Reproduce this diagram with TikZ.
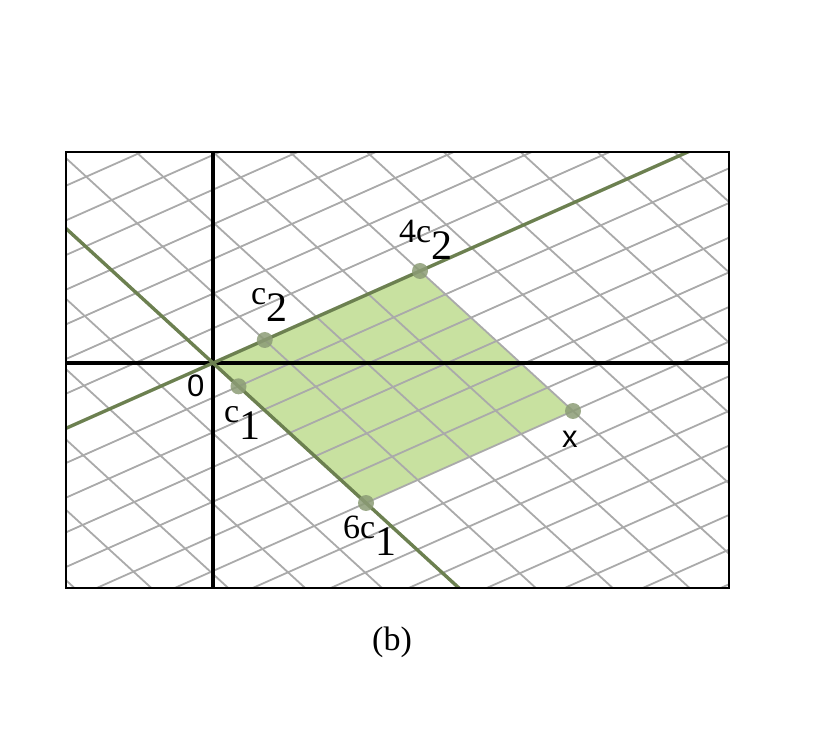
\documentclass[tikz,border=0pt]{standalone}
\usepackage{fontspec}
\setmainfont{Liberation Serif}
\newfontfamily\sansf{Liberation Sans}
\definecolor{gridgray}{RGB}{170,170,170}
\definecolor{latgreen}{RGB}{108,128,80}
\definecolor{fillgreen}{RGB}{200,225,160}
\definecolor{dotgreen}{RGB}{140,156,118}
\newcommand\subdig[1]{\raisebox{-17pt}{\fontsize{42}{42}\selectfont #1}}
\begin{document}
\begin{tikzpicture}[x=1pt,y=-1pt,
  gridline/.style={draw=gridgray, line width=1.8pt},
  latline/.style={draw=latgreen, line width=3.4pt},
  axisline/.style={draw=black, line width=3.4pt},
  dotpt/.style={circle, fill=dotgreen, fill opacity=0.85, minimum size=16pt, inner sep=0pt},
  lab/.style={font=\fontsize{34}{40}\selectfont, inner sep=0pt, anchor=base west},
  slab/.style={font=\sansf\fontsize{31}{36}\selectfont, inner sep=0pt, anchor=base west}]
\useasboundingbox (0,0) rectangle (820,735);
\def\ax{25.5}\def\ay{23.33}\def\bx{51.75}\def\by{-23}
\coordinate (O) at (213,363);
\coordinate (C1) at (238.5,386.33);
\coordinate (C2) at (264.75,340);
\coordinate (SixC1) at (366,503);
\coordinate (FourC2) at (420,271);
\coordinate (X) at (573,411);
\coordinate (FL) at (66,152);
\coordinate (FR) at (729,588);
% shaded parallelogram
\fill[fillgreen] (O) -- (SixC1) -- (X) -- (FourC2) -- cycle;
\begin{scope}
  \clip (FL) rectangle (FR);
  \foreach \i in {-12,...,16} {
    \draw[gridline] ({213+\i*\ax-16*\bx},{363+\i*\ay-16*\by}) -- ({213+\i*\ax+16*\bx},{363+\i*\ay+16*\by});
    \draw[gridline] ({213+\i*\bx-16*\ax},{363+\i*\by-16*\ay}) -- ({213+\i*\bx+16*\ax},{363+\i*\by+16*\ay});
  }
  % axes
  \draw[axisline] (66,363) -- (729,363);
  \draw[axisline] (213,152) -- (213,588);
  % lattice lines through origin
  \draw[latline] ({213-16*\bx},{363-16*\by}) -- ({213+16*\bx},{363+16*\by});
  \draw[latline] ({213-16*\ax},{363-16*\ay}) -- ({213+16*\ax},{363+16*\ay});
\end{scope}
\draw[black, line width=2pt] (FL) rectangle (FR);
% points
\node[dotpt] (pc1) at (C1) {};
\node[dotpt] (pc2) at (C2) {};
\node[dotpt] (p6c1) at (SixC1) {};
\node[dotpt] (p4c2) at (FourC2) {};
\node[dotpt] (px) at (X) {};
% labels
\node[lab] (lc2) at (251,305) {c\subdig{2}};
\node[lab] (l4c2) at (399,243) {4c\subdig{2}};
\node[lab] (lc1) at (224,423) {c\subdig{1}};
\node[lab] (l6c1) at (343,538) {6c\subdig{1}};
\node[slab] (l0) at (187,397) {0};
\node[slab] (lx) at (562,448) {x};
\node[lab, anchor=base] (lb) at (392,650) {(b)};
\end{tikzpicture}
\end{document}
